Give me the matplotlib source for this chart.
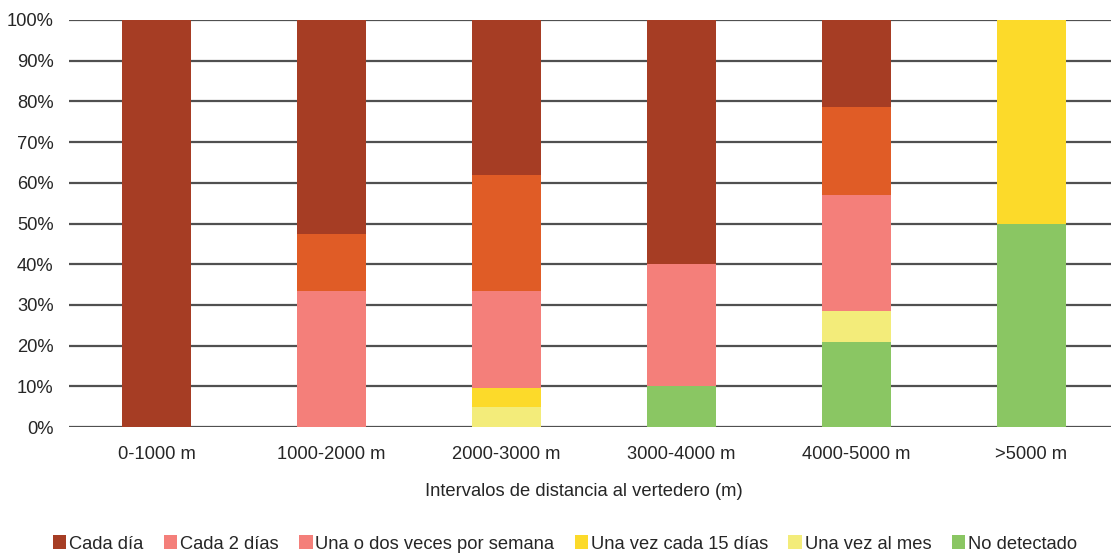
import matplotlib
matplotlib.use("Agg")
import matplotlib.pyplot as plt
from matplotlib.patches import Patch
import numpy as np

plt.rcParams['font.family'] = ['Liberation Sans', 'DejaVu Sans']

categories = ["0-1000 m", "1000-2000 m", "2000-3000 m", "3000-4000 m", "4000-5000 m", ">5000 m"]
# stacked bottom -> top
no_detectado   = [0, 0, 0, 10.0, 21.0, 50.0]
una_vez_mes    = [0, 0, 4.8, 0, 7.5, 0]
una_vez_15     = [0, 0, 4.8, 0, 0, 50.0]
una_dos_semana = [0, 33.3, 23.8, 30.0, 28.6, 0]
cada_2_dias    = [0, 14.1, 28.5, 0, 21.5, 0]
cada_dia       = [100.0, 52.6, 38.1, 60.0, 21.4, 0]

series = [
    ("No detectado", no_detectado, "#8AC663"),
    ("Una vez al mes", una_vez_mes, "#F3EC7A"),
    ("Una vez cada 15 días", una_vez_15, "#FCDA2A"),
    ("Una o dos veces por semana", una_dos_semana, "#F47F7A"),
    ("Cada 2 días", cada_2_dias, "#E05C26"),
    ("Cada día", cada_dia, "#A63D24"),
]

yticks = [0, 10, 20, 30, 40, 50, 60, 70, 80, 90, 100]
ytick_labels = [f"{v}%" for v in yticks]

FS = 13.2
W, H = 1111, 554
fig = plt.figure(figsize=(W / 100, H / 100), dpi=100)
ax = fig.add_axes([69 / W, 1 - 427 / H, (1119 - 69) / W, (427 - 20) / H])

x = np.arange(len(categories))
bottom = np.zeros(len(categories))
for name, vals, col in series:
    v = np.array(vals, dtype=float)
    ax.bar(x, v, bottom=bottom, width=0.39, color=col, zorder=3, linewidth=0)
    bottom += v

ax.set_xlim(-0.5, len(categories) - 0.5)
ax.set_ylim(0, 100)
ax.set_yticks(yticks)
ax.set_yticklabels(ytick_labels, fontsize=FS, color="#262626")
ax.set_xticks(x)
ax.set_xticklabels(categories, fontsize=FS, color="#262626")
ax.tick_params(axis="both", length=0)
ax.tick_params(axis="y", pad=11)
ax.tick_params(axis="x", pad=14)
ax.grid(axis="y", color="#505050", linewidth=1.6, zorder=0)
for s in ax.spines.values():
    s.set_visible(False)

fig.text(584 / W, 1 - 491 / H, "Intervalos de distancia al vertedero (m)",
         ha="center", va="center", fontsize=FS, color="#262626")

legend_items = [
    ("Cada día", "#A63D24"),
    ("Cada 2 días", "#F47F7A"),
    ("Una o dos veces por semana", "#F47F7A"),
    ("Una vez cada 15 días", "#FCDA2A"),
    ("Una vez al mes", "#F3EC7A"),
    ("No detectado", "#8AC663"),
]
handles = [Patch(facecolor=c, edgecolor="none") for _, c in legend_items]
fig.legend(handles, [n for n, _ in legend_items], loc="center",
           bbox_to_anchor=(565 / W, 1 - 544 / H), ncol=6, frameon=False,
           fontsize=FS, handlelength=0.75, handleheight=0.75,
           handletextpad=0.15, columnspacing=1.1, labelcolor="#262626")

fig.savefig("out.png", dpi=100)
